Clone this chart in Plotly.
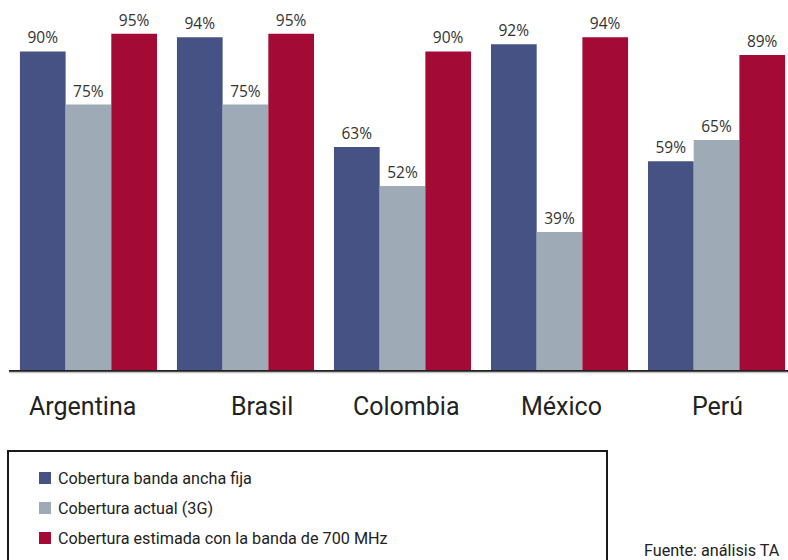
import plotly.graph_objects as go

# Coverage by country (%)
countries = ["Argentina", "Brasil", "Colombia", "México", "Perú"]
series_names = [
    "Cobertura banda ancha fija",
    "Cobertura actual (3G)",
    "Cobertura estimada con la banda de 700 MHz",
]
fija = [90, 94, 63, 92, 59]
actual_3g = [75, 75, 52, 39, 65]
banda_700 = [95, 95, 90, 94, 89]
source_note = "Fuente: análisis TA"

series_values = [fija, actual_3g, banda_700]
colors = ["#465283", "#9eabb6", "#a30a35"]

W, H = 788, 560
ML, MR, MT, MB = 9, 0, 16, 190
PW, PH = W - ML - MR, H - MT - MB


def px(x):
    return (x - ML) / PW


def py(y):
    return (H - MB - y) / PH


value_font = dict(family="Open Sans, Lato, sans-serif", size=15.5, color="#333333")
narrow = "Roboto, Liberation Sans Narrow, sans-serif"

fig = go.Figure()
xs = list(range(len(countries)))
for name, vals, col in zip(series_names, series_values, colors):
    fig.add_trace(go.Bar(
        x=xs, y=vals, name=name,
        marker=dict(color=col, line=dict(width=0)),
        text=[f"{v}%" for v in vals],
        textposition="outside",
        textfont=value_font,
        cliponaxis=False,
        showlegend=False,
    ))

shapes = []
annotations = []

# second, lighter rule just under the baseline
shapes.append(dict(type="line", xref="paper", yref="paper",
                   x0=0, x1=1, y0=py(372.5), y1=py(372.5),
                   line=dict(color="#c4c4c4", width=1.5)))

# category labels under each group
label_shift = [-6, 17, 4, 2, 1]
for i, (c, s) in enumerate(zip(countries, label_shift)):
    annotations.append(dict(x=i, y=py(406), xref="x", yref="paper",
                            text=c, showarrow=False, xshift=s,
                            font=dict(family=narrow, size=25, color="#222222"),
                            xanchor="center", yanchor="middle"))

# legend frame
shapes.append(dict(type="rect", xref="paper", yref="paper",
                   x0=px(8), x1=px(607), y0=py(451), y1=py(575),
                   line=dict(color="#1a1a1a", width=2), fillcolor="rgba(0,0,0,0)"))

rows_y = [478, 508, 538]
for name, col, ry in zip(series_names, colors, rows_y):
    shapes.append(dict(type="rect", xref="paper", yref="paper",
                       x0=px(39), x1=px(51), y0=py(ry + 6), y1=py(ry - 6),
                       line=dict(width=0), fillcolor=col))
    annotations.append(dict(x=px(56), y=py(ry), xref="paper", yref="paper",
                            text=name, showarrow=False,
                            xanchor="left", yanchor="middle",
                            font=dict(family=narrow, size=16.2, color="#222222")))

annotations.append(dict(x=px(642), y=py(550), xref="paper", yref="paper",
                        text=source_note, showarrow=False,
                        xanchor="left", yanchor="middle",
                        font=dict(family=narrow, size=16.2, color="#222222")))

fig.update_layout(
    width=W, height=H,
    margin=dict(l=ML, r=MR, t=MT, b=MB, pad=0),
    paper_bgcolor="white", plot_bgcolor="white",
    barmode="group", bargap=0.127, bargroupgap=0,
    xaxis=dict(range=[-0.506, 4.455], showticklabels=False, ticks="",
               showgrid=False, zeroline=False,
               showline=True, linecolor="#222222", linewidth=2.5),
    yaxis=dict(range=[0, 100], visible=False, showgrid=False, zeroline=False),
    shapes=shapes,
    annotations=annotations,
    uniformtext=dict(mode=False),
)

fig.write_html("out.html")
